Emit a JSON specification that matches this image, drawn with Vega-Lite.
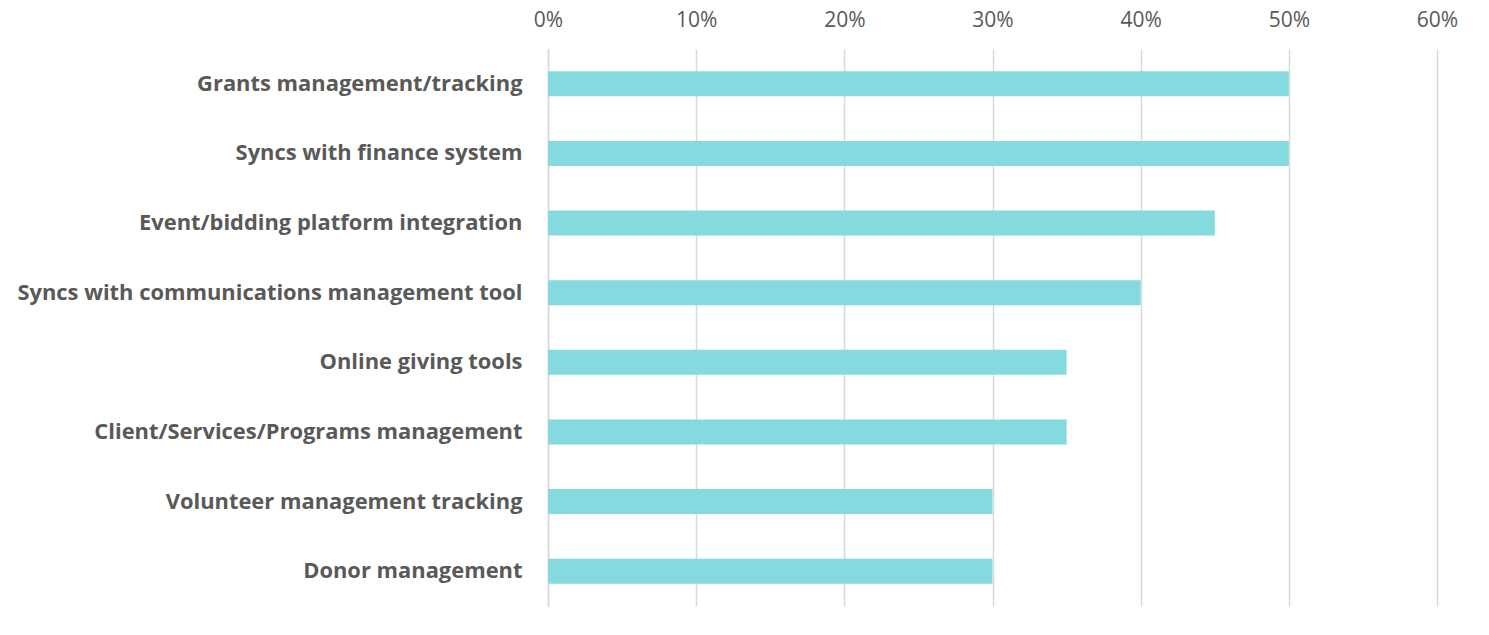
{
  "$schema": "https://vega.github.io/schema/vega-lite/v6.json",
  "autosize": {"type": "none"},
  "padding": {"left": 548, "top": 49, "right": 52, "bottom": 29},
  "width": 889,
  "height": 557,
  "background": "white",
  "data": {
    "values": [
      {"feature": "Grants management/tracking", "share": 0.50},
      {"feature": "Syncs with finance system", "share": 0.50},
      {"feature": "Event/bidding platform integration", "share": 0.45},
      {"feature": "Syncs with communications management tool", "share": 0.40},
      {"feature": "Online giving tools", "share": 0.35},
      {"feature": "Client/Services/Programs management", "share": 0.35},
      {"feature": "Volunteer management tracking", "share": 0.30},
      {"feature": "Donor management", "share": 0.30}
    ]
  },
  "mark": {"type": "bar", "color": "#85DAE0"},
  "encoding": {
    "y": {
      "field": "feature",
      "type": "nominal",
      "sort": null,
      "scale": {"paddingInner": 0.64, "paddingOuter": 0.32},
      "axis": {
        "title": null,
        "domain": true,
        "domainColor": "#d9d9d9",
        "domainWidth": 1.5,
        "ticks": false,
        "labelFont": "Open Sans",
        "labelFontWeight": "bold",
        "labelFontSize": 21.9,
        "labelColor": "#595959",
        "labelPadding": 26,
        "labelLimit": 600
      }
    },
    "x": {
      "field": "share",
      "type": "quantitative",
      "scale": {"domain": [0, 0.6], "nice": false},
      "axis": {
        "orient": "top",
        "title": null,
        "format": ".0%",
        "values": [0, 0.1, 0.2, 0.3, 0.4, 0.5, 0.6],
        "domain": false,
        "ticks": false,
        "grid": true,
        "gridColor": "#d9d9d9",
        "gridWidth": 1.5,
        "labelFlush": false,
        "labelFont": "Open Sans",
        "labelFontSize": 21,
        "labelColor": "#595959",
        "labelPadding": 19
      }
    }
  },
  "config": {"view": {"stroke": null}}
}
